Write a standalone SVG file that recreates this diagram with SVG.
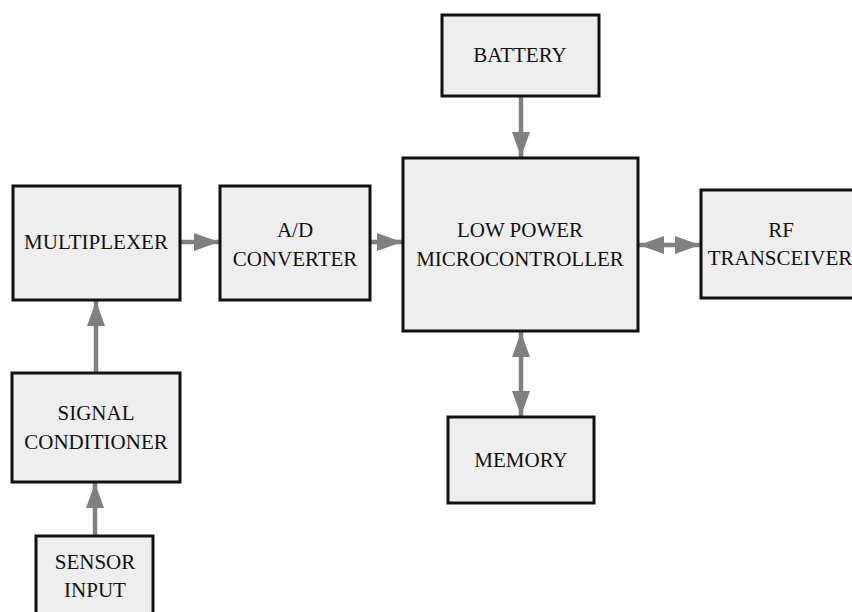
<svg xmlns="http://www.w3.org/2000/svg" width="852" height="612" viewBox="0 0 852 612">
<style>
.box{fill:#eeeeee;stroke:#111111;stroke-width:3}
.lbl{font-family:"Liberation Serif","Times New Roman",serif;font-size:21px;fill:#111111;text-anchor:middle}
.con{stroke:#808080;stroke-width:4.5;fill:none}
</style>
<defs>
<marker id="ah" markerUnits="userSpaceOnUse" markerWidth="26" markerHeight="20" refX="25" refY="9" orient="auto-start-reverse" viewBox="0 0 26 18">
<path d="M0,0 L25,9 L0,18 Z" fill="#808080"/>
</marker>
</defs>
<rect width="852" height="612" fill="#ffffff"/>
<g id="connectors">
<line class="con" x1="180" y1="242" x2="219" y2="242" marker-end="url(#ah)"/>
<line class="con" x1="370" y1="242" x2="402" y2="242" marker-end="url(#ah)"/>
<line class="con" x1="521" y1="96" x2="521" y2="157" marker-end="url(#ah)"/>
<line class="con" x1="639" y1="245" x2="700" y2="245" marker-start="url(#ah)" marker-end="url(#ah)"/>
<line class="con" x1="521" y1="332" x2="521" y2="416" marker-start="url(#ah)" marker-end="url(#ah)"/>
<line class="con" x1="96" y1="372" x2="96" y2="301" marker-end="url(#ah)"/>
<line class="con" x1="95" y1="536" x2="95" y2="483" marker-end="url(#ah)"/>
</g>
<g id="battery">
<rect class="box" x="442" y="15" width="157" height="81"/>
<text class="lbl" x="520" y="62">BATTERY</text>
</g>
<g id="multiplexer">
<rect class="box" x="13" y="186" width="167" height="114"/>
<text class="lbl" x="96" y="249">MULTIPLEXER</text>
</g>
<g id="adconverter">
<rect class="box" x="220" y="186" width="150" height="114"/>
<text class="lbl" x="295" y="237">A/D</text>
<text class="lbl" x="295" y="266">CONVERTER</text>
</g>
<g id="microcontroller">
<rect class="box" x="403" y="158" width="235" height="173"/>
<text class="lbl" x="520" y="237">LOW POWER</text>
<text class="lbl" x="520" y="266">MICROCONTROLLER</text>
</g>
<g id="rftransceiver">
<rect class="box" x="701" y="190" width="165" height="108"/>
<text class="lbl" x="781" y="237">RF</text>
<text class="lbl" x="780" y="265">TRANSCEIVER</text>
</g>
<g id="memory">
<rect class="box" x="448" y="417" width="146" height="86"/>
<text class="lbl" x="521" y="467">MEMORY</text>
</g>
<g id="signalconditioner">
<rect class="box" x="12" y="373" width="168" height="109"/>
<text class="lbl" x="96" y="420">SIGNAL</text>
<text class="lbl" x="96" y="449">CONDITIONER</text>
</g>
<g id="sensorinput">
<rect class="box" x="36" y="536" width="117" height="90"/>
<text class="lbl" x="95" y="569">SENSOR</text>
<text class="lbl" x="95" y="597">INPUT</text>
</g>
</svg>
